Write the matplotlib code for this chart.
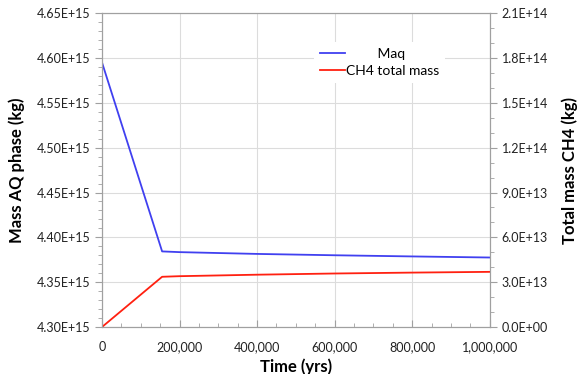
import matplotlib
matplotlib.use("Agg")
import matplotlib.pyplot as plt
from matplotlib.ticker import FuncFormatter, MultipleLocator, AutoMinorLocator

plt.rcParams['font.family'] = ['Lato', 'DejaVu Sans']

# data
time_yrs = [0, 155000, 200000, 400000, 600000, 800000, 1000000]
maq = [4.595e15, 4.3843e15, 4.3835e15, 4.3815e15, 4.3800e15, 4.3787e15, 4.3775e15]
ch4_mass = [0.0, 3.36e13, 3.40e13, 3.50e13, 3.58e13, 3.64e13, 3.69e13]

fig = plt.figure(figsize=(5.77, 3.74), dpi=100)
ax = fig.add_axes([0.1768, 0.1257, 0.672, 0.839])
ax2 = ax.twinx()

l1, = ax.plot(time_yrs, maq, color='#4040f0', lw=1.3, label='         Maq')
l2, = ax2.plot(time_yrs, ch4_mass, color='#ff2010', lw=1.3, label='CH4 total mass')

ax.set_xlim(0, 1000000)
ax.set_ylim(4.30e15, 4.65e15)
ax2.set_ylim(0, 2.1e14)

ax.xaxis.set_major_locator(MultipleLocator(200000))
ax.xaxis.set_minor_locator(AutoMinorLocator(4))
ax.yaxis.set_major_locator(MultipleLocator(0.05e15))
ax.yaxis.set_minor_locator(AutoMinorLocator(5))
ax2.yaxis.set_major_locator(MultipleLocator(3e13))
ax2.yaxis.set_minor_locator(AutoMinorLocator(3))

ax.xaxis.set_major_formatter(FuncFormatter(lambda v, p: f"{int(v):,}"))
ax.yaxis.set_major_formatter(FuncFormatter(lambda v, p: f"{v:.2E}"))
ax2.yaxis.set_major_formatter(FuncFormatter(lambda v, p: f"{v:.1E}"))

ax.grid(True, which='major', color='#dcdcdc', lw=0.8)
ax.set_axisbelow(True)

for a in (ax, ax2):
    for s in a.spines.values():
        s.set_color('#a0a0a0')
        s.set_linewidth(0.8)
    a.tick_params(which='both', color='#a0a0a0', labelsize=9, labelcolor='#222222')
    a.tick_params(which='major', length=5)
    a.tick_params(which='minor', length=3)
ax.tick_params(axis='x', which='both', direction='in')
ax.tick_params(axis='x', pad=10)

ax.set_xlabel('Time (yrs)', fontsize=12, fontweight='bold', labelpad=4)
ax.set_ylabel('Mass AQ phase (kg)', fontsize=12, fontweight='bold', labelpad=8)
ax2.set_ylabel('Total mass CH4 (kg)', fontsize=12, fontweight='bold', labelpad=10)

leg = ax.legend(handles=[l1, l2], loc='upper left', bbox_to_anchor=(0.53, 0.93),
                frameon=True, fontsize=10, handlelength=1.8, handletextpad=0.1,
                labelspacing=0.4)
leg.get_frame().set_edgecolor('none')
leg.get_frame().set_facecolor('white')
leg.get_frame().set_alpha(1)

fig.savefig('out.png', dpi=100)
